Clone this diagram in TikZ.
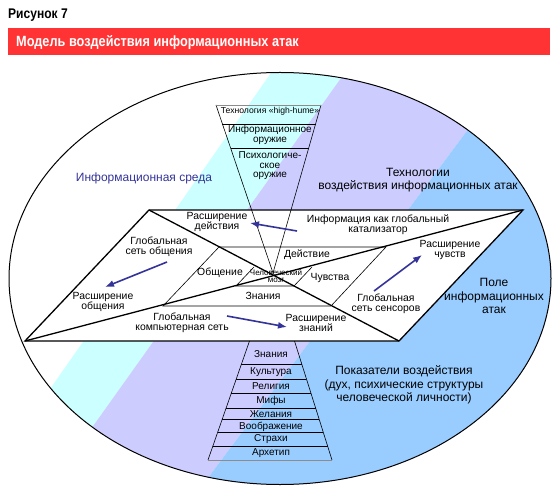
\documentclass[tikz,border=0pt]{standalone}
\usepackage{fontspec}
\setmainfont{Liberation Sans}
\newfontfamily\headfont[FakeStretch=0.86]{Liberation Sans}
\usetikzlibrary{arrows.meta,calc}
\definecolor{bandcyan}{HTML}{CCFFFF}
\definecolor{bandlav}{HTML}{CCCCFF}
\definecolor{bandsky}{HTML}{99CCFF}
\definecolor{barred}{HTML}{FF3333}
\definecolor{inkblue}{HTML}{333399}

\begin{document}
\begin{tikzpicture}[
  x=1pt, y=-1pt,
  >=Latex,
  % Styles
  lbl/.style={align=center, inner sep=0pt, font=\fontsize{10.4}{10}\selectfont},
  biglbl/.style={align=center, inner sep=0pt, font=\fontsize{12}{13.5}\selectfont},
  tier/.style={align=center, inner sep=0pt, font=\fontsize{10}{9.5}\selectfont},
  thickline/.style={line width=1.3pt, line join=miter},
  thinline/.style={line width=0.6pt},
  rowline/.style={line width=0.8pt},
  flow/.style={-{Latex[length=9pt,width=7pt]}, line width=1.6pt, draw=inkblue},
]
\useasboundingbox (0,0) rectangle (556,502);

% === Heading ===
\node[anchor=base west, inner sep=0pt, font=\headfont\bfseries\fontsize{14}{14}\selectfont] (fignum) at (8,18.3) {Рисунок 7};
\fill[barred] (7.5,28) rectangle (550,55);
\node[anchor=base west, inner sep=0pt, text=white, font=\headfont\bfseries\fontsize{14.8}{15}\selectfont] (heading) at (16,46.7) {Модель воздействия информационных атак};

% === Bands inside the field ===
\begin{scope}
  \clip (280,278.5) ellipse [x radius=271pt, y radius=206pt];
  \fill[bandcyan] (322,0) -- (396.6,0) -- (39,502) -- (-29,502) -- cycle;
  \fill[bandlav] (396.6,0) -- (564.6,0) -- (190,502) -- (39,502) -- cycle;
  \fill[bandsky] (564.6,0) -- (620,0) -- (620,502) -- (190,502) -- cycle;
\end{scope}
\draw[line width=1pt] (280,278.5) ellipse [x radius=271pt, y radius=206pt];

% === Plane ===
\coordinate (pTL) at (149,210);
\coordinate (pTR) at (523,210);
\coordinate (pBR) at (399,341);
\coordinate (pBL) at (25,341);
\filldraw[fill=white, thickline] (pTL) -- (pTR) -- (pBR) -- (pBL) -- cycle;

\coordinate (iTL) at (219,247);
\coordinate (iTR) at (386,247);
\coordinate (iBR) at (331,306);
\coordinate (iBL) at (163,306);
\draw[thinline] (iTL) -- (iTR) -- (iBR) -- (iBL) -- cycle;

\coordinate (bTL) at (254,267);
\coordinate (bBL) at (236,286);
\coordinate (bBR) at (294,286);
\coordinate (bTR) at (312,267);
\draw[thinline] (bTL) -- (bBL) -- (bBR) -- (bTR);

\draw[thickline] (pTL) -- (pBR);
\draw[thickline] (pBL) -- (pTR);

% === Funnel (top) ===
\coordinate (fL) at (216,105);
\coordinate (fR) at (321,105);
\coordinate (apex) at (273,273);
\draw[thinline] (fL) -- (apex) -- (fR);
\draw[thinline, black!45] (fL) -- (fR);
\draw[rowline] ($(fL)!{19/168}!(apex)$) -- ($(fR)!{19/168}!(apex)$);
\draw[rowline] ($(fL)!{43/168}!(apex)$) -- ($(fR)!{43/168}!(apex)$);

% === Pyramid (bottom) ===
\coordinate (qL) at (249.5,341);
\coordinate (qR) at (294.5,341);
\coordinate (qBL) at (208,460);
\coordinate (qBR) at (332,460);
\draw[thinline] (qL) -- (qBL);
\draw[thinline] (qR) -- (qBR);
\draw[rowline, black!45] (qBL) -- (qBR);
\foreach \yy in {364,379,393,408,419,432,446}
  \draw[rowline] ($(qL)!{(\yy-341)/119}!(qBL)$) -- ($(qR)!{(\yy-341)/119}!(qBR)$);

% === Field labels ===
\node[biglbl, text=inkblue] (sreda) at (144,178) {Информационная среда};
\node[biglbl] (tech) at (418,180) {Технологии\\воздействия информационных атак};
\node[biglbl] (pole) at (494,296) {Поле\\информационных\\атак};
\node[biglbl] (pokaz) at (404,385) {Показатели воздействия\\(дух, психические структуры\\человеческой личности)};

% === Funnel labels ===
\node[tier, font=\fontsize{8.6}{9}\selectfont] (hume) at (270,111) {Технология «high-hume»};
\node[tier] (infweap) at (270,135) {Информационное\\оружие};
\node[tier] (psyweap) at (270,166) {Психологиче-\\ское\\оружие};

% === Plane labels ===
\node[lbl] (rd) at (217,222) {Расширение\\действия};
\node[lbl] (cat) at (378,224.5) {Информация как глобальный\\катализатор};
\node[lbl] (gso) at (159,247) {Глобальная\\сеть общения};
\node[lbl] (ro) at (103,302) {Расширение\\общения};
\node[lbl] (obsh) at (220,273) {Общение};
\node[lbl] (deyst) at (307,255) {Действие};
\node[lbl] (chuv) at (330,278) {Чувства};
\node[lbl, font=\fontsize{8}{7}\selectfont] (brain) at (276,276.5) {Человеческий\\мозг};
\node[lbl] (znan) at (263,296) {Знания};
\node[lbl] (gks) at (182,323) {Глобальная\\компьютерная сеть};
\node[lbl] (rz) at (316,323) {Расширение\\знаний};
\node[lbl] (rch) at (450,250) {Расширение\\чувств};
\node[lbl] (gss) at (386,304) {Глобальная\\сеть сенсоров};

% === Pyramid labels ===
\node[tier] (t1) at (271,354) {Знания};
\node[tier] (t2) at (271,372.5) {Культура};
\node[tier] (t3) at (271,386.5) {Религия};
\node[tier] (t4) at (271,401) {Мифы};
\node[tier] (t5) at (271,414) {Желания};
\node[tier] (t6) at (271,426.5) {Воображение};
\node[tier] (t7) at (271,439.5) {Страхи};
\node[tier] (t8) at (271,453) {Архетип};

% === Arrows ===
\coordinate (a1s) at (297,231);
\coordinate (a1e) at (250,223);
\coordinate (a2s) at (167,262);
\coordinate (a2e) at (105,287);
\coordinate (a3s) at (227,316);
\coordinate (a3e) at (287,327);
\coordinate (a4s) at (374,291);
\coordinate (a4e) at (422,255);
\draw[flow] (a1s) -- (a1e);
\draw[flow] (a2s) -- (a2e);
\draw[flow] (a3s) -- (a3e);
\draw[flow] (a4s) -- (a4e);

\end{tikzpicture}
\end{document}
